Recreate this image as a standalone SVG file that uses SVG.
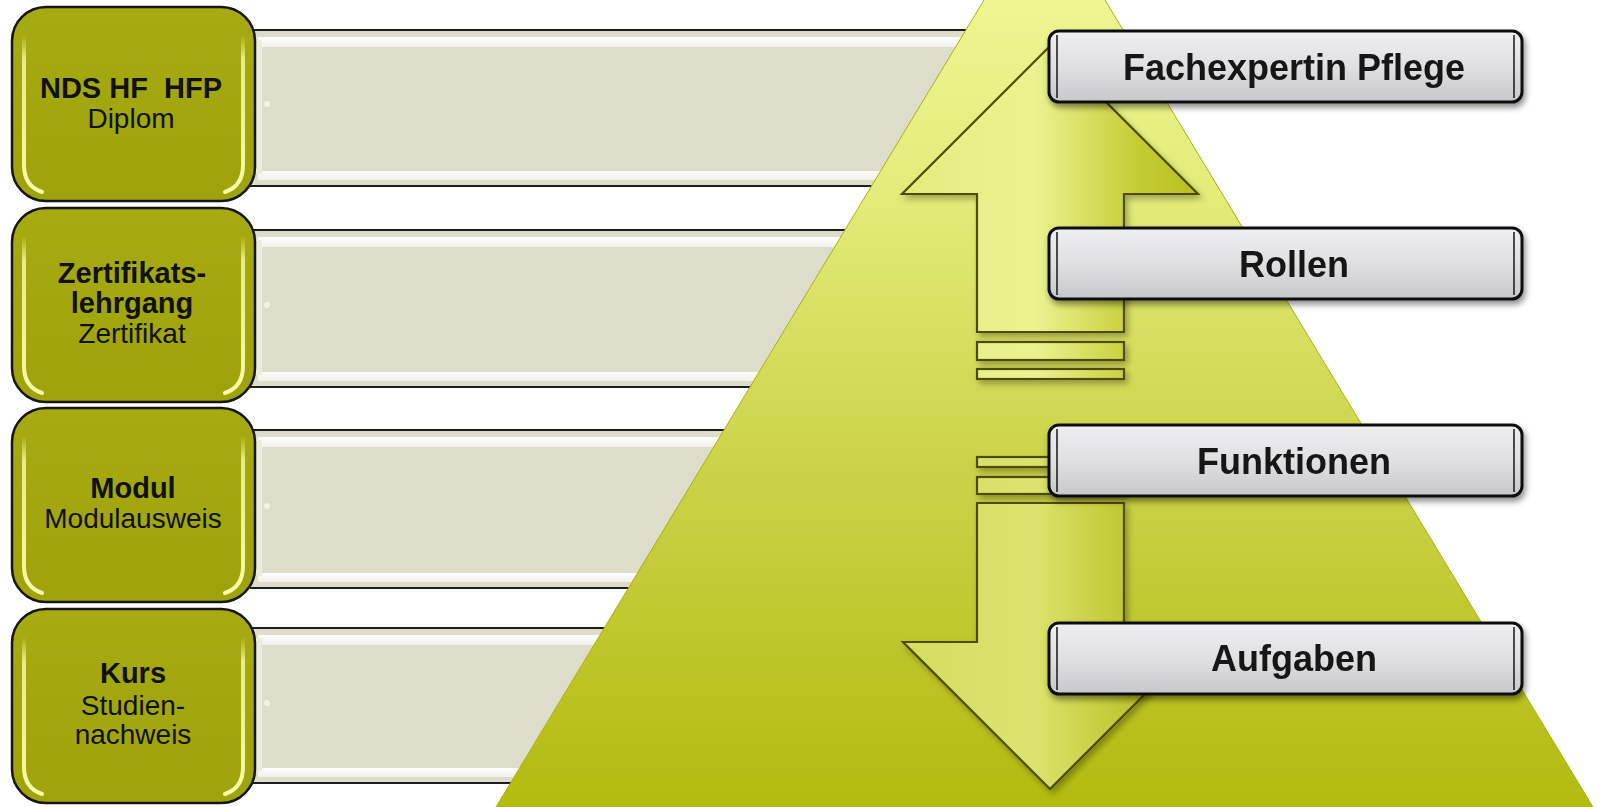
<svg xmlns="http://www.w3.org/2000/svg" width="1600" height="807" viewBox="0 0 1600 807">
<defs>
<style>
.lvl{fill:url(#olive);stroke:#161616;stroke-width:2.5}
.gloss{fill:none;stroke:url(#glossV);stroke-width:4;stroke-linecap:round}
.bar{fill:#dedccb}
.barline{stroke:#1e1e1e;stroke-width:2.2}
.hl{fill:url(#hlV)}
.tb{font-family:"Liberation Sans",Arial,sans-serif;font-size:29px;font-weight:bold;fill:#111;text-anchor:middle}
.tr{font-family:"Liberation Sans",Arial,sans-serif;font-size:28px;fill:#111;text-anchor:middle}
.lab{fill:url(#grayV);stroke:#111;stroke-width:3}
.cap{stroke:#222;stroke-width:1.6}
.lt{font-family:"Liberation Sans",Arial,sans-serif;font-size:36px;font-weight:bold;fill:#151515;text-anchor:middle}
.arr{stroke:#4e4e00;stroke-width:2.2;stroke-linejoin:miter}
</style>
<linearGradient id="olive" x1="0" y1="0" x2="0" y2="1">
<stop offset="0" stop-color="#a6ab12"/>
<stop offset="1" stop-color="#9ea30b"/>
</linearGradient>
<linearGradient id="glossV" x1="0" y1="0" x2="0" y2="1">
<stop offset="0" stop-color="#f4f89a" stop-opacity="0"/>
<stop offset="0.15" stop-color="#f4f89a" stop-opacity="0.85"/>
<stop offset="1" stop-color="#f8fba8" stop-opacity="1"/>
</linearGradient>
<linearGradient id="hlV" x1="0" y1="0" x2="0" y2="1">
<stop offset="0" stop-color="#ffffff" stop-opacity="0.95"/>
<stop offset="1" stop-color="#ffffff" stop-opacity="0.6"/>
</linearGradient>
<linearGradient id="tri" gradientUnits="userSpaceOnUse" x1="0" y1="-100" x2="0" y2="807">
<stop offset="0" stop-color="#f2fa9c"/>
<stop offset="0.3" stop-color="#e4ee7c"/>
<stop offset="0.6" stop-color="#ccd54c"/>
<stop offset="1" stop-color="#b2bb0e"/>
</linearGradient>
<linearGradient id="upG" gradientUnits="userSpaceOnUse" x1="902" y1="0" x2="1198" y2="0">
<stop offset="0" stop-color="#e4ec7e"/>
<stop offset="0.45" stop-color="#ebf390"/>
<stop offset="0.8" stop-color="#c4cc34"/>
<stop offset="1" stop-color="#b8c020"/>
</linearGradient>
<linearGradient id="dnG" gradientUnits="userSpaceOnUse" x1="903" y1="0" x2="1197" y2="0">
<stop offset="0" stop-color="#d4dd60"/>
<stop offset="0.45" stop-color="#dbe36e"/>
<stop offset="0.82" stop-color="#bac222"/>
<stop offset="1" stop-color="#c2ca36"/>
</linearGradient>
<linearGradient id="grayV" x1="0" y1="0" x2="0" y2="1">
<stop offset="0" stop-color="#efeff2"/>
<stop offset="0.5" stop-color="#e0e0e3"/>
<stop offset="1" stop-color="#c8c8cc"/>
</linearGradient>
<filter id="sh" x="-10%" y="-20%" width="120%" height="150%">
<feGaussianBlur in="SourceAlpha" stdDeviation="3"/>
<feOffset dx="2" dy="4" result="b"/>
<feComponentTransfer><feFuncA type="linear" slope="0.45"/></feComponentTransfer>
<feMerge><feMergeNode/><feMergeNode in="SourceGraphic"/></feMerge>
</filter>
<filter id="sh2" x="-10%" y="-10%" width="120%" height="130%">
<feGaussianBlur in="SourceAlpha" stdDeviation="3"/>
<feOffset dx="3" dy="4" result="b"/>
<feComponentTransfer><feFuncA type="linear" slope="0.3"/></feComponentTransfer>
<feMerge><feMergeNode/><feMergeNode in="SourceGraphic"/></feMerge>
</filter>
</defs>
<rect width="1600" height="807" fill="#ffffff"/>

<g id="bars">
<g id="bar1">
<rect class="bar" x="250" y="30" width="770" height="156"/>
<rect class="hl" x="258" y="37" width="762" height="10"/>
<rect class="hl" x="258" y="171" width="762" height="9"/>
<rect x="256" y="40" width="6" height="134" fill="#ecebe0"/>
<circle cx="267" cy="104" r="3" fill="#f4f3ea"/>
<line class="barline" x1="250" y1="30" x2="1020" y2="30"/>
<line class="barline" x1="250" y1="186" x2="1020" y2="186"/>
</g>
<g id="bar2">
<rect class="bar" x="250" y="230" width="770" height="157"/>
<rect class="hl" x="258" y="237" width="762" height="10"/>
<rect class="hl" x="258" y="372" width="762" height="9"/>
<rect x="256" y="240" width="6" height="135" fill="#ecebe0"/>
<circle cx="267" cy="305" r="3" fill="#f4f3ea"/>
<line class="barline" x1="250" y1="230" x2="1020" y2="230"/>
<line class="barline" x1="250" y1="387" x2="1020" y2="387"/>
</g>
<g id="bar3">
<rect class="bar" x="250" y="430" width="770" height="158"/>
<rect class="hl" x="258" y="437" width="762" height="10"/>
<rect class="hl" x="258" y="573" width="762" height="9"/>
<rect x="256" y="440" width="6" height="136" fill="#ecebe0"/>
<circle cx="267" cy="506" r="3" fill="#f4f3ea"/>
<line class="barline" x1="250" y1="430" x2="1020" y2="430"/>
<line class="barline" x1="250" y1="588" x2="1020" y2="588"/>
</g>
<g id="bar4">
<rect class="bar" x="250" y="628" width="770" height="155"/>
<rect class="hl" x="258" y="635" width="762" height="10"/>
<rect class="hl" x="258" y="768" width="762" height="9"/>
<rect x="256" y="638" width="6" height="133" fill="#ecebe0"/>
<circle cx="267" cy="703" r="3" fill="#f4f3ea"/>
<line class="barline" x1="250" y1="628" x2="1020" y2="628"/>
<line class="barline" x1="250" y1="783" x2="1020" y2="783"/>
</g>
</g>

<g id="level1">
<rect class="lvl" x="12" y="7" width="243" height="194" rx="34"/>
<path class="gloss" d="M24 35 V165 Q24 186 42 192"/>
<path class="gloss" d="M243 35 V165 Q243 186 225 192"/>
<text class="tb" x="131" y="98" xml:space="preserve">NDS HF  HFP</text>
<text class="tr" x="131" y="128">Diplom</text>
</g>
<g id="level2">
<rect class="lvl" x="12" y="208" width="243" height="194" rx="34"/>
<path class="gloss" d="M24 236 V366 Q24 387 42 393"/>
<path class="gloss" d="M243 236 V366 Q243 387 225 393"/>
<text class="tb" x="132" y="283">Zertifikats-</text>
<text class="tb" x="132" y="313">lehrgang</text>
<text class="tr" x="132" y="343">Zertifikat</text>
</g>
<g id="level3">
<rect class="lvl" x="12" y="408" width="243" height="194" rx="34"/>
<path class="gloss" d="M24 436 V566 Q24 587 42 593"/>
<path class="gloss" d="M243 436 V566 Q243 587 225 593"/>
<text class="tb" x="133" y="498">Modul</text>
<text class="tr" x="133" y="528">Modulausweis</text>
</g>
<g id="level4">
<rect class="lvl" x="12" y="609" width="243" height="194" rx="34"/>
<path class="gloss" d="M24 637 V767 Q24 788 42 794"/>
<path class="gloss" d="M243 637 V767 Q243 788 225 794"/>
<text class="tb" x="133" y="683">Kurs</text>
<text class="tr" x="133" y="715">Studien-</text>
<text class="tr" x="133" y="744">nachweis</text>
</g>

<g id="pyramid">
<polygon points="1044.5,-100 493,812 1596,812" fill="url(#tri)" stroke="#a9b20c" stroke-width="1"/>
</g>

<g id="connectors">
<g id="arrow-up" filter="url(#sh2)">
<polygon class="arr" fill="url(#upG)" points="1050,46 1198,194 1124,194 1124,332 977,332 977,194 902,194"/>
<rect class="arr" fill="url(#upG)" x="977" y="342" width="147" height="18"/>
<rect class="arr" fill="url(#upG)" x="977" y="369" width="147" height="10"/>
</g>
<g id="arrow-down" filter="url(#sh2)">
<rect class="arr" fill="url(#dnG)" x="977" y="457" width="147" height="10"/>
<rect class="arr" fill="url(#dnG)" x="977" y="477" width="147" height="17"/>
<polygon class="arr" fill="url(#dnG)" points="977,503 1124,503 1124,642 1197,642 1050,789 903,642 977,642"/>
</g>
</g>

<g id="label1" filter="url(#sh)">
<rect class="lab" x="1049" y="31" width="473" height="71" rx="10"/>
<line class="cap" x1="1057" y1="35" x2="1057" y2="98"/>
<line class="cap" x1="1514" y1="35" x2="1514" y2="98"/>
<text class="lt" x="1294" y="80">Fachexpertin Pflege</text>
</g>
<g id="label2" filter="url(#sh)">
<rect class="lab" x="1049" y="228" width="473" height="71" rx="10"/>
<line class="cap" x1="1057" y1="232" x2="1057" y2="295"/>
<line class="cap" x1="1514" y1="232" x2="1514" y2="295"/>
<text class="lt" x="1294" y="277">Rollen</text>
</g>
<g id="label3" filter="url(#sh)">
<rect class="lab" x="1049" y="425" width="473" height="71" rx="10"/>
<line class="cap" x1="1057" y1="429" x2="1057" y2="492"/>
<line class="cap" x1="1514" y1="429" x2="1514" y2="492"/>
<text class="lt" x="1294" y="474">Funktionen</text>
</g>
<g id="label4" filter="url(#sh)">
<rect class="lab" x="1049" y="623" width="473" height="71" rx="10"/>
<line class="cap" x1="1057" y1="627" x2="1057" y2="690"/>
<line class="cap" x1="1514" y1="627" x2="1514" y2="690"/>
<text class="lt" x="1294" y="671">Aufgaben</text>
</g>
</svg>
